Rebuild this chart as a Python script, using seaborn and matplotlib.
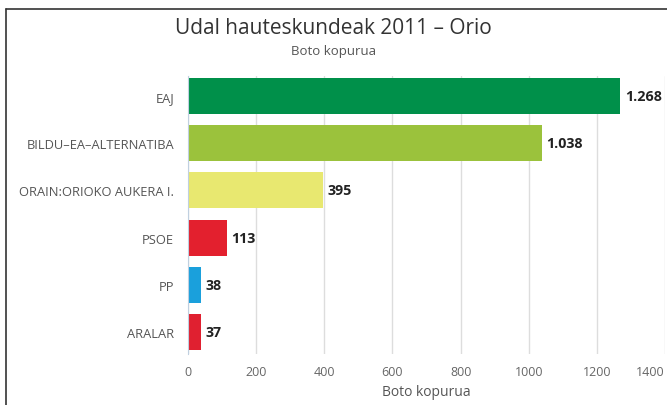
import matplotlib
matplotlib.use('Agg')
import pandas as pd
import seaborn as sns
import matplotlib.pyplot as plt
from matplotlib.lines import Line2D

# Data
parties = ['EAJ', 'BILDU–EA–ALTERNATIBA', 'ORAIN:ORIOKO AUKERA I.', 'PSOE', 'PP', 'ARALAR']
votes = [1268, 1038, 395, 113, 38, 37]
vote_labels = ['1.268', '1.038', '395', '113', '38', '37']
colors = ['#00904a', '#9bc23c', '#e8e870', '#e3202e', '#1aa0dc', '#e02030']

df = pd.DataFrame({'party': parties, 'votes': votes})

sns.set_style('white')
plt.rcParams['font.family'] = ['Open Sans', 'DejaVu Sans']

fig = plt.figure(figsize=(6.67, 4.06), dpi=100)
ax = fig.add_axes([0.282, 0.1256, 0.715, 0.685])

sns.barplot(data=df, x='votes', y='party', hue='party', palette=colors,
            legend=False, width=0.76, saturation=1, ax=ax, edgecolor='none')

for i, (v, lab) in enumerate(zip(votes, vote_labels)):
    ax.text(v + 14, i, lab, va='center', ha='left', fontsize=10.3,
            fontweight='bold', color='#222222')

ax.set_xlim(0, 1400)
ax.set_ylim(5.466, -0.424)
ax.set_xticks(range(0, 1401, 200))
ax.grid(axis='x', color='#dddddd', linewidth=1)
ax.set_axisbelow(True)
for s in ['top', 'right', 'bottom']:
    ax.spines[s].set_visible(False)
ax.spines['left'].set_color('#c0d0e0')
ax.tick_params(axis='x', length=0, labelsize=9, labelcolor='#666666', pad=8)
ax.tick_params(axis='y', length=0, labelsize=9.3, labelcolor='#555555', pad=10)
ax.get_xticklabels()[-1].set_horizontalalignment('right')
ax.set_ylabel('')
ax.set_xlabel('Boto kopurua', fontsize=10, color='#555555', labelpad=4)

fig.text(0.5, 0.929, 'Udal hauteskundeak 2011 – Orio', ha='center', va='center',
         fontsize=15, color='#333333')
fig.text(0.5, 0.873, 'Boto kopurua', ha='center', va='center',
         fontsize=9.5, color='#555555')

# outer frame lines (left and top)
fig.add_artist(Line2D([0.009, 0.009], [0, 0.975], color='#333333', linewidth=1.2))
fig.add_artist(Line2D([0.009, 1.0], [0.975, 0.975], color='#333333', linewidth=1.2))

fig.savefig('out.png', dpi=100)
